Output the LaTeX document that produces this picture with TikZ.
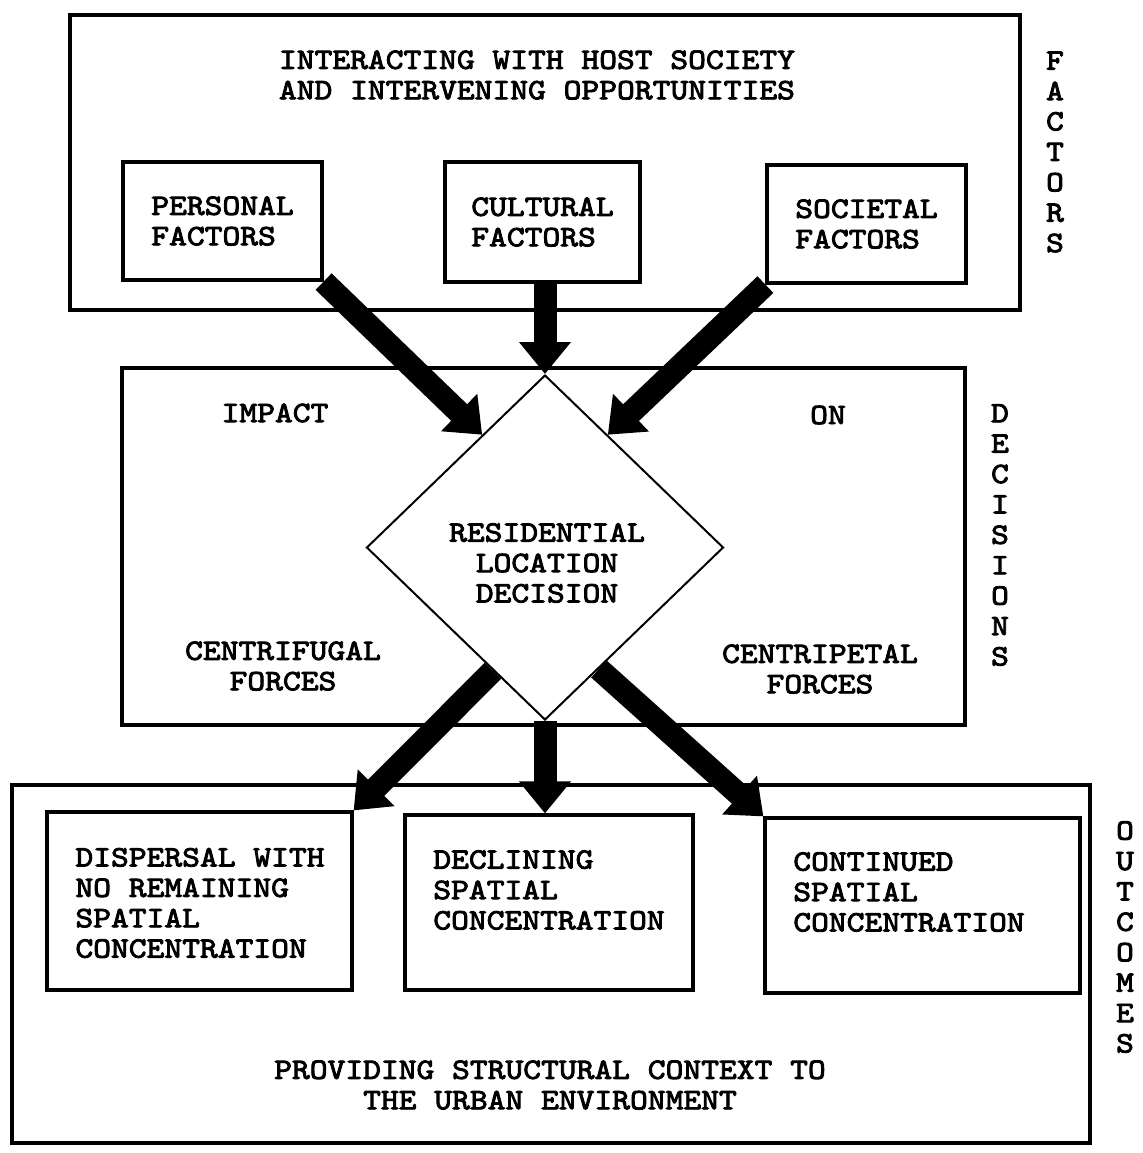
\documentclass[tikz,border=0pt]{standalone}
\usepackage{fontspec}
\newfontfamily\typewriter{lmmono10-regular.otf}[FakeBold=3,FakeStretch=1.145]
\usetikzlibrary{arrows.meta,calc,shapes.geometric}

\begin{document}
\begin{tikzpicture}[x=0.5pt,y=-0.5pt,
  lbl/.style={font=\typewriter\fontsize{14.8}{15.2}\selectfont,inner sep=0pt,align=center},
  frame/.style={draw,line width=1.6pt,inner sep=0pt},
  bigarrow/.style={line width=11.5pt,-{Triangle[length=16pt,width=25pt]}}]
\useasboundingbox (0,0) rectangle (1143,1153);
% three outer frames
\node[frame,minimum width=475pt,minimum height=147.5pt] (factors) at (545,162.5) {};
\node[frame,minimum width=421.5pt,minimum height=178.5pt] (decisions) at (543.5,546.5) {};
\node[frame,minimum width=539pt,minimum height=179pt] (outcomes) at (551,964) {};
% factors
\node[lbl] (host) at (537,75) {INTERACTING WITH HOST SOCIETY\\AND INTERVENING OPPORTUNITIES};
\node[frame,lbl,align=left,minimum width=99.5pt,minimum height=59pt] (personal) at (222.5,221) {PERSONAL\\FACTORS};
\node[frame,lbl,align=left,minimum width=97.5pt,minimum height=60pt] (cultural) at (542.5,222) {CULTURAL\\FACTORS};
\node[frame,lbl,align=left,minimum width=99.5pt,minimum height=59pt] (societal) at (866.5,224) {SOCIETAL\\FACTORS};
% decisions
\node[draw,diamond,line width=1pt,fill=white,inner sep=0pt,
  minimum width=178.5pt,minimum height=172.5pt] (dec) at (545,547.5) {};
\node[lbl] (rld) at (547,563) {RESIDENTIAL\\LOCATION\\DECISION};
\node[lbl] (impact) at (275,413) {IMPACT};
\node[lbl] (on) at (828,415) {ON};
\node[lbl] (centrifugal) at (283,666) {CENTRIFUGAL\\FORCES};
\node[lbl] (centripetal) at (820,669) {CENTRIPETAL\\FORCES};
% outcomes
\node[frame,minimum width=152.5pt,minimum height=89pt] (disp) at (199.5,901) {};
\node[lbl,align=left] (disptext) at (200,903) {DISPERSAL WITH\\NO REMAINING\\SPATIAL\\CONCENTRATION};
\node[frame,minimum width=144pt,minimum height=87.5pt] (decl) at (549,902.5) {};
\node[lbl,align=left] (decltext) at (549,890) {DECLINING\\SPATIAL\\CONCENTRATION};
\node[frame,minimum width=157.5pt,minimum height=87.5pt] (cont) at (922.5,905.5) {};
\node[lbl,align=left] (conttext) at (909,892) {CONTINUED\\SPATIAL\\CONCENTRATION};
\node[lbl] (context) at (550,1085) {PROVIDING STRUCTURAL CONTEXT TO\\THE URBAN ENVIRONMENT};
% side captions
\node[lbl] (sidef) at (1055,152) {F\\A\\C\\T\\O\\R\\S};
\node[lbl] (sided) at (1000,535) {D\\E\\C\\I\\S\\I\\O\\N\\S};
\node[lbl] (sideo) at (1125,937) {O\\U\\T\\C\\O\\M\\E\\S};
% arrows
\draw[bigarrow] (personal.south east) -- ($(dec.north)!0.35!(dec.west)$);
\draw[bigarrow] (dec.north |- cultural.south) -- (dec.north);
\draw[bigarrow] (societal.south west) -- ($(dec.north)!0.35!(dec.east)$);
\draw[bigarrow] ($(dec.south)!0.29!(dec.west)$) -- (disp.north east);
\draw[bigarrow] (dec.south) -- (dec.south |- decl.north);
\draw[bigarrow] ($(dec.south)!0.3!(dec.east)$) -- (cont.north west);
\end{tikzpicture}
\end{document}
